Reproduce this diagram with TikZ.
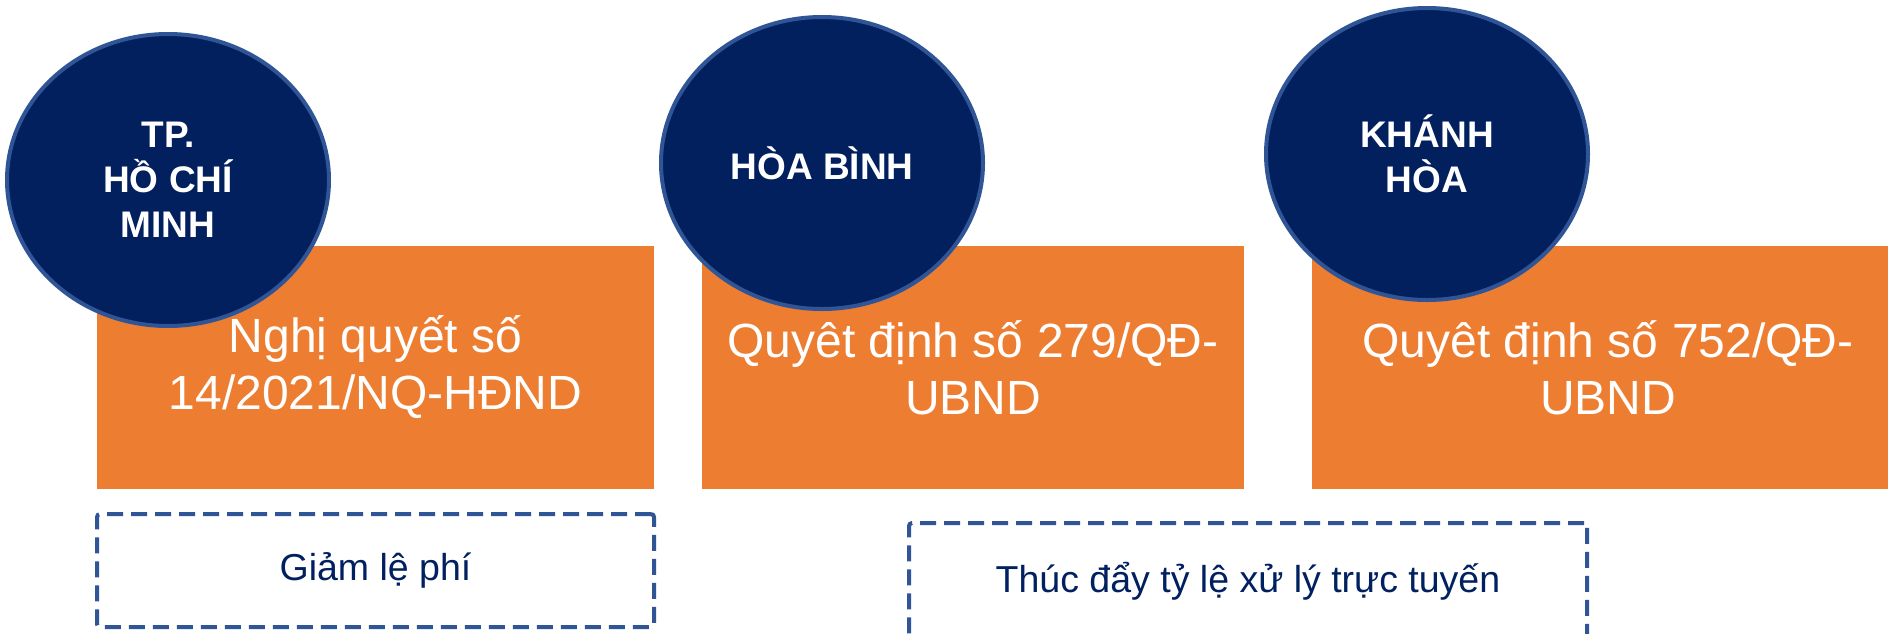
\documentclass[tikz,border=0pt]{standalone}
\usepackage{fontspec}
\setmainfont{Liberation Sans}
\usetikzlibrary{shapes.geometric}
\definecolor{navy}{HTML}{03205E}
\definecolor{ringblue}{HTML}{2F5597}
\definecolor{orng}{HTML}{ED7D31}
\definecolor{txtnavy}{HTML}{002060}
\tikzset{
  lawbox/.style={fill=orng, draw=none, inner sep=0pt, minimum width=557pt, minimum height=243pt,
    text=white, align=center, font=\fontsize{48}{57}\selectfont},
  city/.style={ellipse, fill=navy, draw=ringblue, line width=4pt, inner sep=0pt,
    minimum width=322pt, minimum height=292pt, text=white, align=center,
    font=\fontsize{37}{45}\selectfont\bfseries},
  notebox/.style={draw=ringblue, line width=4pt, dash pattern=on 16pt off 8pt, rounded corners=3pt,
    inner sep=0pt, text=txtnavy, align=center, font=\fontsize{37.5}{44}\selectfont}
}
\begin{document}
\begin{tikzpicture}[x=1pt,y=-1pt]
\useasboundingbox (0,0) rectangle (1888,633);
\clip (0,0) rectangle (1888,633);
\fill[white] (0,0) rectangle (1888,633);
% orange boxes
\node[lawbox] (r1) at (375.5,367.5) {Nghị quyết số\\14/2021/NQ-HĐND};
\node[lawbox, minimum width=542pt] (r2) at (973,367.5) {Quyêt định số 279/QĐ-\\UBND};
\node[lawbox, minimum width=592pt] (r3) at (1608,367.5) {Quyêt định số 752/QĐ-\\UBND};
% circles
\node[city] (c1) at (168,180) {TP.\\HỒ CHÍ\\MINH};
\node[city] (c2) at (822,163) {HÒA BÌNH};
\node[city] (c3) at (1427,154) {KHÁNH\\HÒA};
% dashed notes
\node[notebox, minimum width=557pt, minimum height=113pt] (n1) at (375.5,570.5) {Giảm lệ phí};
\node[notebox, minimum width=678pt, minimum height=116pt] (n2) at (1248,581) {Thúc đẩy tỷ lệ xử lý trực tuyến};
\end{tikzpicture}
\end{document}
